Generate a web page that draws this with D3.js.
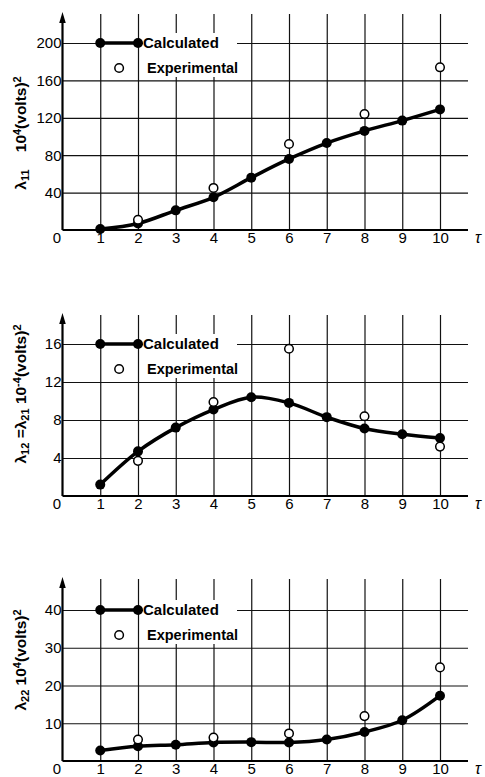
<!DOCTYPE html>
<html>
<head>
<meta charset="utf-8">
<script src="https://cdn.jsdelivr.net/npm/d3@7.9.0/dist/d3.min.js"></script>
<style>
  body { margin: 0; background: #fff; }
  svg { display: block; font-family: 'Liberation Sans', Arial, sans-serif; }
  .tick text { font-size: 15px; fill: #000; }
  .grid line { stroke: #111; stroke-width: 1.2; }
</style>
</head>
<body>
<svg id="chart" width="485" height="777"></svg>
<script>
// values
const tau    = [1, 2, 3, 4, 5, 6, 7, 8, 9, 10];
const tauExp = [2, 4, 6, 8, 10];

const calc11 = [1, 7, 21, 35, 56, 76, 93, 106, 117, 129];
const exp11  = [11, 45, 92, 124, 174];
const ticks11 = [40, 80, 120, 160, 200];

const calc12 = [1.2, 4.7, 7.2, 9.1, 10.4, 9.8, 8.3, 7.1, 6.5, 6.1];
const exp12  = [3.7, 9.9, 15.5, 8.4, 5.2];
const ticks12 = [4, 8, 12, 16];

const calc22 = [2.8, 3.9, 4.3, 4.9, 5.0, 4.9, 5.7, 7.7, 10.8, 17.3];
const exp22  = [5.7, 6.2, 7.3, 11.9, 24.8];
const ticks22 = [10, 20, 30, 40];

const panels = [
  { calc: calc11, exp: exp11, ticks: ticks11, bottom: 230, top: 43, topVal: 200, arrowTop: 12,
    title: [['λ', 0], ['11', 'sub'], ['    10', 0], ['4', 'sup'], ['(volts)', 0], ['2', 'sup']], titleY: 133 },
  { calc: calc12, exp: exp12, ticks: ticks12, bottom: 496, top: 344, topVal: 16, arrowTop: 313,
    title: [['λ', 0], ['12', 'sub'], [' =λ', 0], ['21', 'sub'], [' 10', 0], ['-4', 'sup'], ['(volts)', 0], ['2', 'sup']], titleY: 394 },
  { calc: calc22, exp: exp22, ticks: ticks22, bottom: 761, top: 610, topVal: 40, arrowTop: 577,
    title: [['λ', 0], ['22', 'sub'], [' 10', 0], ['4', 'sup'], ['(volts)', 0], ['2', 'sup']], titleY: 660 }
];

const svg = d3.select('#chart');
const x = d3.scaleLinear().domain([0, 10]).range([62.5, 440]);
const xEnd = 468;

svg.append('defs').append('marker')
  .attr('id', 'arrow')
  .attr('viewBox', '0 0 10 10')
  .attr('refX', 1).attr('refY', 5)
  .attr('markerWidth', 11).attr('markerHeight', 11)
  .attr('markerUnits', 'userSpaceOnUse')
  .attr('orient', 'auto')
  .append('path')
  .attr('d', 'M0,2 L10,5 L0,8 Z')
  .attr('fill', '#000');

panels.forEach(p => {
  const y = d3.scaleLinear().domain([0, p.topVal]).range([p.bottom, p.top]);
  const g = svg.append('g');

  // vertical grid + x labels
  g.append('g')
    .attr('class', 'grid')
    .attr('transform', `translate(0,${p.bottom})`)
    .call(d3.axisBottom(x).tickValues(tau)
      .tickSize(-(p.bottom - p.arrowTop - 2)).tickSizeOuter(0).tickPadding(2)
      .tickFormat(d3.format('d')))
    .call(s => s.select('.domain').remove());

  // horizontal grid + y labels
  g.append('g')
    .attr('class', 'grid')
    .attr('transform', `translate(${x(0)},0)`)
    .call(d3.axisLeft(y).tickValues(p.ticks)
      .tickSize(-(xEnd - x(0))).tickSizeOuter(0).tickPadding(1))
    .call(s => s.select('.domain').remove());

  // origin label and tau
  g.append('text').attr('x', 57).attr('y', p.bottom + 13)
    .attr('text-anchor', 'middle').attr('font-size', 15).text('0');
  g.append('text').attr('x', 478).attr('y', p.bottom + 13)
    .attr('text-anchor', 'middle').attr('font-size', 16).attr('font-style', 'italic').text('τ');

  // axes
  g.append('line').attr('x1', x(0)).attr('x2', xEnd)
    .attr('y1', p.bottom).attr('y2', p.bottom)
    .attr('stroke', '#000').attr('stroke-width', 2.2);
  g.append('line').attr('x1', x(0)).attr('x2', x(0))
    .attr('y1', p.bottom).attr('y2', p.arrowTop + 10)
    .attr('stroke', '#000').attr('stroke-width', 2.2)
    .attr('marker-end', 'url(#arrow)');

  // legend
  const ly = y(p.topVal);
  const ey = ly + 25;
  g.append('rect').attr('x', x(2) + 5).attr('y', ly - 10)
    .attr('width', 94).attr('height', 44).attr('fill', '#fff');
  g.append('line').attr('x1', x(1)).attr('x2', x(2))
    .attr('y1', ly).attr('y2', ly)
    .attr('stroke', '#000').attr('stroke-width', 3.5);
  g.selectAll('.ld').data([1, 2]).join('circle')
    .attr('cx', d => x(d)).attr('cy', ly).attr('r', 5).attr('fill', '#000');
  g.append('text').attr('x', x(2) + 5).attr('y', ly + 5)
    .attr('font-size', 15).attr('font-weight', 'bold').text('Calculated');
  g.append('circle').attr('cx', x(1.5)).attr('cy', ey).attr('r', 4.3)
    .attr('fill', '#fff').attr('stroke', '#000').attr('stroke-width', 1.5);
  g.append('text').attr('x', x(2) + 9).attr('y', ey + 5)
    .attr('font-size', 14.5).attr('font-weight', 'bold').text('Experimental');

  // calculated curve
  const pts = tau.map((t, i) => [t, p.calc[i]]);
  g.append('path')
    .attr('d', d3.line().x(d => x(d[0])).y(d => y(d[1])).curve(d3.curveCatmullRom.alpha(0.5))(pts))
    .attr('fill', 'none').attr('stroke', '#000').attr('stroke-width', 3.5);
  g.selectAll('.cd').data(pts).join('circle')
    .attr('cx', d => x(d[0])).attr('cy', d => y(d[1])).attr('r', 5).attr('fill', '#000');

  // experimental points
  g.selectAll('.ed').data(tauExp.map((t, i) => [t, p.exp[i]])).join('circle')
    .attr('cx', d => x(d[0])).attr('cy', d => y(d[1])).attr('r', 4.3)
    .attr('fill', '#fff').attr('stroke', '#000').attr('stroke-width', 1.5);

  // y title
  const t = g.append('text')
    .attr('transform', `translate(26,${p.titleY}) rotate(-90)`)
    .attr('text-anchor', 'middle')
    .attr('font-size', 15.5).attr('font-weight', 'bold');
  p.title.forEach(([s, k]) => {
    t.append('tspan')
      .attr('baseline-shift', k === 'sub' ? '-25%' : k === 'sup' ? '45%' : null)
      .attr('font-size', k ? 11 : null)
      .attr('xml:space', 'preserve')
      .text(s);
  });
});
</script>
</body>
</html>
